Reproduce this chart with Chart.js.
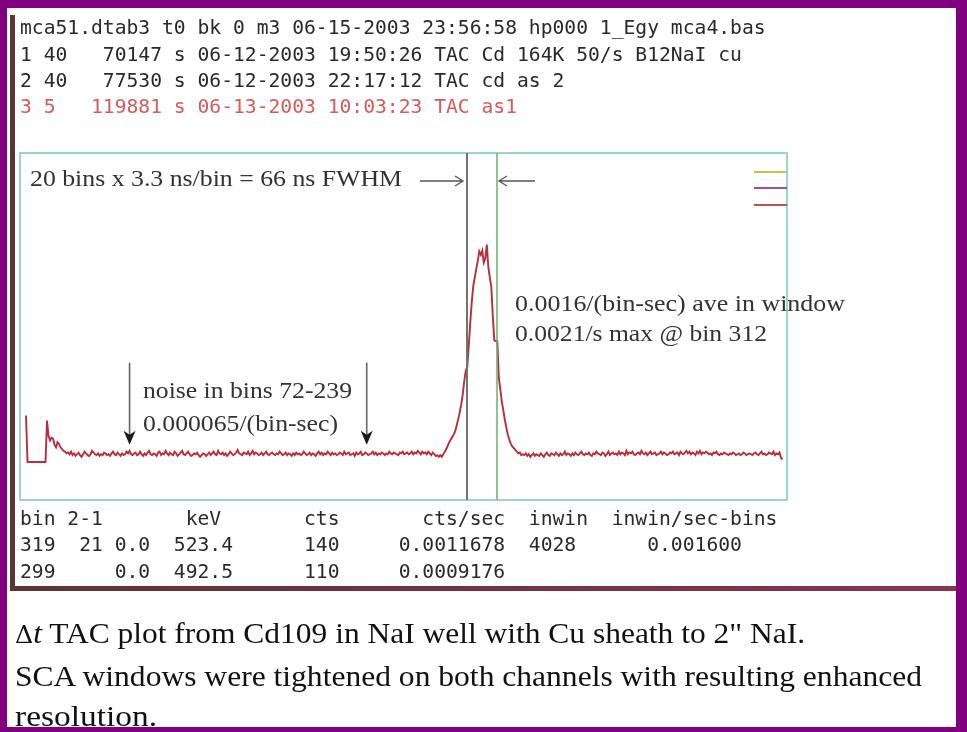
<!DOCTYPE html>
<html>
<head>
<meta charset="utf-8">
<script src="https://cdn.jsdelivr.net/npm/chart.js@4"></script>
<style>
body{margin:0;background:#fff;}
#wrap{position:relative;width:967px;height:732px;overflow:hidden;}
#c{position:absolute;left:0;top:0;}
.t{position:absolute;white-space:pre;transform-origin:0 50%;line-height:1;}
.mono{font-family:"DejaVu Sans Mono","Liberation Mono",monospace;font-size:19.67px;color:#2a2a2a;}
.serif{font-family:"Liberation Serif","Times New Roman",serif;color:#333;}
</style>
</head>
<body>
<div id="wrap">
<canvas id="c" width="967" height="732"></canvas>
</div>
<script>
// ---- data (counts per bin, live time 119881 s) ----
const earlyStart = 5;
const earlyCounts = [54,0,0,0,0,0,0,0,0,0,0,0,0,0,
  48,30,25,28,27,20,17,23,21,17,15,13,12,10,11,9,12];
const noiseAStart = 36;
const noiseACounts = [
  8,10,7,9,11,8,6,9,12,10,8,7,9,13,11,
  9,8,10,7,9,8,11,10,8,9,
  7,10,12,9,8,11,9,7,10,8,
  9,12,10,13,9,8,10,11,8,9,
  12,9,7,10,8,11,13,9,8,10,
  9,7,11,12,8,10,9,13,10,8,
  11,9,8,12,10,7,9,11,13,9,
  8,10,12,9,7,8,10,9,11,8,
  6,8,10,9,7,9,11,8,10,12,
  9,8,13,10,9,11,8,10,7,9,
  12,10,8,9,11,14,10,9,8,11,
  10,9,12,8,10,13,9,11,10,8,
  9,11,8,10,12,9,8,10,11,9,
  8,10,9,12,10,8,9,11,8,10,
  9,7,10,8,11,9,10,8,9,12,
  10,8,9,11,8,10,9,7,10,12,
  9,11,8,10,9,12,10,8,11,9,
  10,8,9,11,10,8,12,9,10,11,
  8,9,10,7,11,9,10,12,8,9,
  11,10,8,9,10,12,9,11,8,10,
  9,11,10,8,10,9,12,10,9,11,
  10,9,8,11,10,12,9,10,11,9,
  10,12,9,11,10,13,11,9,12,10,
  11,9,12,10,8,11,9,7,8,6];
const peakStart = 281;
const peakCounts = [
  8,6,9,12,15,19,23,26,29,32,
  36,43,50,58,67,79,94,106,110,136,
  162,186,204,214,224,233,244,240,245,231,
  236,252,226,214,203,169,141,140,140,98,
  84,70,60,49,40,32,26,21,18,16,
  14,12,10,11,8];
const noiseBStart = 336;
const noiseBCounts = [
  9,8,10,7,9,
  6,8,10,7,9,8,7,10,8,6,
  9,11,8,7,10,9,8,11,9,7,
  10,8,9,12,8,10,9,7,10,8,
  11,9,8,10,12,9,8,10,9,11,
  8,7,10,9,12,10,9,8,11,10,
  7,9,12,8,10,11,9,10,8,12,
  9,11,10,8,13,9,11,10,12,9,
  8,10,11,9,13,10,9,11,8,10,
  12,9,10,11,8,9,10,12,9,11,
  10,8,9,11,10,12,9,10,11,8,
  12,10,9,11,13,10,12,9,11,10,
  8,12,10,13,9,11,10,12,11,9,
  10,8,11,10,12,9,8,10,9,11,
  10,9,8,10,9,11,10,8,9,10,
  8,9,11,10,8,9,10,9,8,10,
  11,9,8,10,12,9,10,8,9,11,
  10,9,12,8,10,9,11,5,3];
const cursorBins = [299, 319];
const noiseArrowBins = [74, 232];
const binRange = [1, 512];
const countRange = [-44, 358];

// ---- build points ----
function seg(start, arr){ return arr.map((v,i)=>({x:start+i, y:v})); }
const points = [].concat(seg(earlyStart,earlyCounts), seg(noiseAStart,noiseACounts),
  seg(peakStart,peakCounts), seg(noiseBStart,noiseBCounts));

const deco = {
  id:'deco',
  beforeDraw(chart){
    const c = chart.ctx, a = chart.chartArea;
    c.save();
    c.fillStyle = '#800080'; c.fillRect(0,0,967,732);
    c.fillStyle = '#ffffff'; c.fillRect(7,8,949,719);
    c.fillStyle = '#5a3636'; c.fillRect(10,15,5,575);
    const g = c.createLinearGradient(10,0,956,0);
    g.addColorStop(0,'#5e3434'); g.addColorStop(1,'#8a3350');
    c.fillStyle = g; c.fillRect(10,586,946,5);
    c.strokeStyle = '#9fd4c8'; c.lineWidth = 2;
    c.strokeRect(a.left, a.top, a.right-a.left, a.bottom-a.top);
    c.restore();
  },
  afterDatasetsDraw(chart){
    const c = chart.ctx, a = chart.chartArea, xs = chart.scales.x, ys = chart.scales.y;
    c.save();
    const gx = Math.round(xs.getPixelForValue(cursorBins[0]));
    const gr = Math.round(xs.getPixelForValue(cursorBins[1]));
    c.lineWidth = 2; c.strokeStyle = '#727272';
    c.beginPath(); c.moveTo(gx,a.top); c.lineTo(gx,a.bottom); c.stroke();
    c.lineWidth = 1.5; c.strokeStyle = '#6aaf6a';
    c.beginPath(); c.moveTo(gr,a.top); c.lineTo(gr,a.bottom); c.stroke();
    c.strokeStyle = '#555'; c.lineWidth = 1.3;
    const ay = 181;
    let tip = gx-4;
    c.beginPath(); c.moveTo(420,ay); c.lineTo(tip,ay);
    c.moveTo(tip-8,ay-5); c.lineTo(tip,ay); c.lineTo(tip-8,ay+5); c.stroke();
    tip = gr+2;
    c.beginPath(); c.moveTo(535,ay); c.lineTo(tip,ay);
    c.moveTo(tip+8,ay-5); c.lineTo(tip,ay); c.lineTo(tip+8,ay+5); c.stroke();
    noiseArrowBins.forEach(b=>{
      const x = xs.getPixelForValue(b);
      const y0 = ys.getPixelForValue(115), y1 = ys.getPixelForValue(20);
      c.strokeStyle = '#666'; c.lineWidth = 1.6;
      c.beginPath(); c.moveTo(x,y0); c.lineTo(x,y1-8); c.stroke();
      c.fillStyle = '#1a1a1a';
      c.beginPath(); c.moveTo(x,y1); c.lineTo(x-6,y1-14); c.lineTo(x,y1-10); c.lineTo(x+6,y1-14); c.closePath(); c.fill();
    });
    [['#c9c24a',172],['#9b4fa6',188],['#c0504d',205]].forEach(([col,y])=>{
      c.strokeStyle = col; c.lineWidth = 2;
      c.beginPath(); c.moveTo(a.right-33,y); c.lineTo(a.right,y); c.stroke();
    });
    c.restore();
  }
};

new Chart(document.getElementById('c'), {
  type:'line',
  data:{datasets:[{data:points, borderColor:'#b82e3c', borderWidth:1.9, pointRadius:0, tension:0, fill:false}]},
  options:{
    responsive:false, animation:false, devicePixelRatio:1,
    layout:{padding:{left:20, top:153, right:180, bottom:232}},
    plugins:{legend:{display:false}, tooltip:{enabled:false}},
    scales:{
      x:{type:'linear', min:binRange[0], max:binRange[1], display:false},
      y:{min:countRange[0], max:countRange[1], display:false}
    }
  },
  plugins:[deco]
});

// ---- text ----
const texts = [
  ['mono', 20, 28, 'mca51.dtab3 t0 bk 0 m3 06-15-2003 23:56:58 hp000 1_Egy mca4.bas', null, '#2a2a2a'],
  ['mono', 20, 55, '1 40   70147 s 06-12-2003 19:50:26 TAC Cd 164K 50/s B12NaI cu', null, '#2a2a2a'],
  ['mono', 20, 81, '2 40   77530 s 06-12-2003 22:17:12 TAC cd as 2', null, '#2a2a2a'],
  ['mono', 20, 107, '3 5   119881 s 06-13-2003 10:03:23 TAC as1', null, '#d55c5c'],
  ['mono', 20, 519, 'bin 2-1       keV       cts       cts/sec  inwin  inwin/sec-bins', null, '#2a2a2a'],
  ['mono', 20, 545, '319  21 0.0  523.4      140     0.0011678  4028      0.001600', null, '#2a2a2a'],
  ['mono', 20, 572, '299     0.0  492.5      110     0.0009176', null, '#2a2a2a'],
  ['serif23', 30, 178, '20 bins x 3.3 ns/bin = 66 ns FWHM', 372, '#333'],
  ['serif23', 515, 303, '0.0016/(bin-sec) ave in window', 330, '#333'],
  ['serif23', 515, 333, '0.0021/s max @ bin 312', 252, '#333'],
  ['serif23', 143, 390, 'noise in bins 72-239', 209, '#333'],
  ['serif23', 143, 423, '0.000065/(bin-sec)', 195, '#333'],
  ['serif30', 15, 633, '<span style="font-family:\'DejaVu Serif\',serif;font-size:0.8em">Δ</span><i>t</i> TAC plot from Cd109 in NaI well with Cu sheath to 2" NaI.', 790, '#111'],
  ['serif30', 15, 676, 'SCA windows were tightened on both channels with resulting enhanced', 907, '#111'],
  ['serif30', 15, 716, 'resolution.', 142, '#111']
];
const wrap = document.getElementById('wrap');
texts.forEach(([kind,x,cy,txt,w,col])=>{
  const d = document.createElement('div');
  let fs;
  if(kind==='mono'){ d.className='t mono'; fs=19.67; }
  else { d.className='t serif'; fs = kind==='serif23'?23:30; d.style.fontSize=fs+'px'; }
  d.style.color = col;
  d.style.left = x+'px';
  d.style.top = (cy - fs/2)+'px';
  d.innerHTML = txt;
  wrap.appendChild(d);
  if(w){ const r = d.getBoundingClientRect().width; d.style.transform = 'scaleX('+(w/r)+')'; }
});
</script>
</body>
</html>
